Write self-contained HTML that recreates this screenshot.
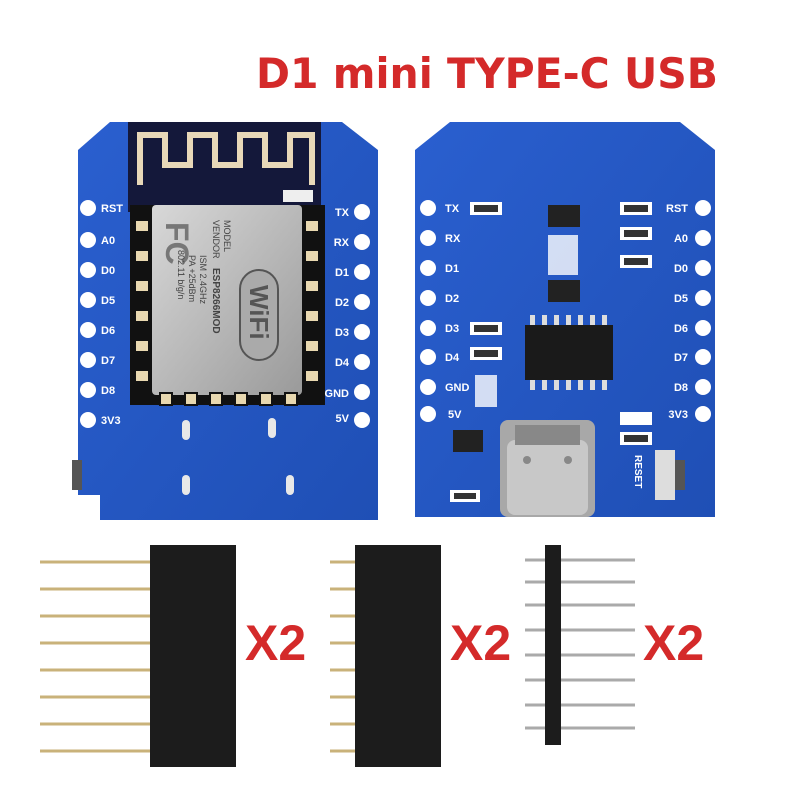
<!DOCTYPE html>
<html><head><meta charset="utf-8"><style>
html,body{margin:0;padding:0;background:#fff;}
svg{display:block}
</style></head><body>
<svg width="800" height="800" viewBox="0 0 800 800" xmlns="http://www.w3.org/2000/svg" font-family="Liberation Sans, sans-serif">
<defs>
<linearGradient id="pcb" x1="0" y1="0" x2="1" y2="1"><stop offset="0" stop-color="#2a5fcf"/><stop offset="1" stop-color="#1f4fb5"/></linearGradient>
<linearGradient id="shield" x1="0" y1="0" x2="1" y2="1"><stop offset="0" stop-color="#d8d8d8"/><stop offset="1" stop-color="#9a9a9a"/></linearGradient>
</defs>
<text x="487" y="88" text-anchor="middle" font-size="42" font-family="DejaVu Sans, sans-serif" font-weight="bold" fill="#d42a2a" textLength="462" lengthAdjust="spacingAndGlyphs">D1 mini TYPE-C USB</text>

<!-- LEFT BOARD -->
<path d="M110,122 L342,122 L378,150 L378,520 L100,520 L100,495 L78,495 L78,150 Z" fill="url(#pcb)"/>
<rect x="128" y="122" width="193" height="90" fill="#14183a"/>
<path d="M140,185 V135 H165 V165 H190 V135 H215 V165 H240 V135 H265 V165 H290 V135 H312 V185" fill="none" stroke="#e8d8b8" stroke-width="6"/>
<rect x="283" y="190" width="30" height="12" fill="#eee"/>
<rect x="130" y="205" width="195" height="200" fill="#111"/>
<rect x="152" y="205" width="150" height="190" rx="4" fill="url(#shield)"/>
<text x="166" y="222" font-size="32" font-weight="bold" fill="#777" transform="rotate(90 166 222)">FC</text>
<g font-size="9" fill="#444">
<text x="224" y="220" transform="rotate(90 224 220)">MODEL</text>
<text x="213" y="220" transform="rotate(90 213 220)">VENDOR</text>
<text x="213" y="268" font-weight="bold" font-size="10" transform="rotate(90 213 268)">ESP8266MOD</text>
<text x="200" y="255" transform="rotate(90 200 255)">ISM  2.4GHz</text>
<text x="189" y="255" transform="rotate(90 189 255)">PA  +25dBm</text>
<text x="178" y="250" transform="rotate(90 178 250)">802.11 b/g/n</text>
</g>
<rect x="240" y="270" width="38" height="90" rx="19" fill="#aaa" stroke="#555" stroke-width="2"/>
<text x="250" y="285" font-size="26" font-weight="bold" fill="#555" transform="rotate(90 250 285)">WiFi</text>
<g fill="#e8d8b0" stroke="#111" stroke-width="2">
<rect x="135" y="220" width="14" height="12"/><rect x="135" y="250" width="14" height="12"/><rect x="135" y="280" width="14" height="12"/><rect x="135" y="310" width="14" height="12"/><rect x="135" y="340" width="14" height="12"/><rect x="135" y="370" width="14" height="12"/>
<rect x="305" y="220" width="14" height="12"/><rect x="305" y="250" width="14" height="12"/><rect x="305" y="280" width="14" height="12"/><rect x="305" y="310" width="14" height="12"/><rect x="305" y="340" width="14" height="12"/><rect x="305" y="370" width="14" height="12"/>
<rect x="160" y="393" width="12" height="12"/><rect x="185" y="393" width="12" height="12"/><rect x="210" y="393" width="12" height="12"/><rect x="235" y="393" width="12" height="12"/><rect x="260" y="393" width="12" height="12"/><rect x="285" y="393" width="12" height="12"/>
</g>
<g fill="#fff"><circle cx="88" cy="208" r="8"/><circle cx="88" cy="240" r="8"/><circle cx="88" cy="270" r="8"/><circle cx="88" cy="300" r="8"/><circle cx="88" cy="330" r="8"/><circle cx="88" cy="360" r="8"/><circle cx="88" cy="390" r="8"/><circle cx="88" cy="420" r="8"/>
<circle cx="362" cy="212" r="8"/><circle cx="362" cy="242" r="8"/><circle cx="362" cy="272" r="8"/><circle cx="362" cy="302" r="8"/><circle cx="362" cy="332" r="8"/><circle cx="362" cy="362" r="8"/><circle cx="362" cy="392" r="8"/><circle cx="362" cy="420" r="8"/></g>
<g font-size="11" font-weight="bold" fill="#fff">
<text x="101" y="212">RST</text><text x="101" y="244">A0</text><text x="101" y="274">D0</text><text x="101" y="304">D5</text><text x="101" y="334">D6</text><text x="101" y="364">D7</text><text x="101" y="394">D8</text><text x="101" y="424">3V3</text>
<text x="349" y="216" text-anchor="end">TX</text><text x="349" y="246" text-anchor="end">RX</text><text x="349" y="276" text-anchor="end">D1</text><text x="349" y="306" text-anchor="end">D2</text><text x="349" y="336" text-anchor="end">D3</text><text x="349" y="366" text-anchor="end">D4</text><text x="349" y="397" text-anchor="end">GND</text><text x="349" y="422" text-anchor="end">5V</text>
</g>
<g fill="#e8e8e8"><rect x="182" y="420" width="8" height="20" rx="4"/><rect x="268" y="418" width="8" height="20" rx="4"/><rect x="182" y="475" width="8" height="20" rx="4"/><rect x="286" y="475" width="8" height="20" rx="4"/></g>
<rect x="72" y="460" width="10" height="30" fill="#555"/>

<!-- RIGHT BOARD -->
<path d="M450,122 L680,122 L715,150 L715,517 L415,517 L415,150 Z" fill="url(#pcb)"/>
<g fill="#fff"><circle cx="428" cy="208" r="8"/><circle cx="428" cy="238" r="8"/><circle cx="428" cy="268" r="8"/><circle cx="428" cy="298" r="8"/><circle cx="428" cy="328" r="8"/><circle cx="428" cy="357" r="8"/><circle cx="428" cy="387" r="8"/><circle cx="428" cy="414" r="8"/>
<circle cx="703" cy="208" r="8"/><circle cx="703" cy="238" r="8"/><circle cx="703" cy="268" r="8"/><circle cx="703" cy="298" r="8"/><circle cx="703" cy="328" r="8"/><circle cx="703" cy="357" r="8"/><circle cx="703" cy="387" r="8"/><circle cx="703" cy="414" r="8"/></g>
<g font-size="11" font-weight="bold" fill="#fff">
<text x="445" y="212">TX</text><text x="445" y="242">RX</text><text x="445" y="272">D1</text><text x="445" y="302">D2</text><text x="445" y="332">D3</text><text x="445" y="361">D4</text><text x="445" y="391">GND</text><text x="448" y="418">5V</text>
<text x="688" y="212" text-anchor="end">RST</text><text x="688" y="242" text-anchor="end">A0</text><text x="688" y="272" text-anchor="end">D0</text><text x="688" y="302" text-anchor="end">D5</text><text x="688" y="332" text-anchor="end">D6</text><text x="688" y="361" text-anchor="end">D7</text><text x="688" y="391" text-anchor="end">D8</text><text x="688" y="418" text-anchor="end">3V3</text>
<text x="635" y="455" font-size="10" transform="rotate(90 635 455)">RESET</text>
</g>
<g fill="#fff"><rect x="470" y="202" width="32" height="13"/><rect x="620" y="202" width="32" height="13"/><rect x="620" y="227" width="32" height="13"/><rect x="620" y="255" width="32" height="13"/><rect x="470" y="322" width="32" height="13"/><rect x="470" y="347" width="32" height="13"/><rect x="620" y="412" width="32" height="13"/><rect x="620" y="432" width="32" height="13"/><rect x="450" y="490" width="30" height="12"/></g>
<g fill="#333"><rect x="474" y="205" width="24" height="7"/><rect x="624" y="205" width="24" height="7"/><rect x="624" y="230" width="24" height="7"/><rect x="624" y="258" width="24" height="7"/><rect x="474" y="325" width="24" height="7"/><rect x="474" y="350" width="24" height="7"/><rect x="624" y="435" width="24" height="7"/><rect x="454" y="493" width="22" height="6"/></g>
<rect x="548" y="205" width="32" height="22" fill="#222"/><rect x="548" y="280" width="32" height="22" fill="#222"/>
<rect x="548" y="235" width="30" height="40" fill="#fff" opacity="0.8"/>
<rect x="525" y="325" width="88" height="55" fill="#1a1a1a"/>
<g fill="#ddd"><rect x="530" y="315" width="5" height="10"/><rect x="542" y="315" width="5" height="10"/><rect x="554" y="315" width="5" height="10"/><rect x="566" y="315" width="5" height="10"/><rect x="578" y="315" width="5" height="10"/><rect x="590" y="315" width="5" height="10"/><rect x="602" y="315" width="5" height="10"/>
<rect x="530" y="380" width="5" height="10"/><rect x="542" y="380" width="5" height="10"/><rect x="554" y="380" width="5" height="10"/><rect x="566" y="380" width="5" height="10"/><rect x="578" y="380" width="5" height="10"/><rect x="590" y="380" width="5" height="10"/><rect x="602" y="380" width="5" height="10"/></g>
<rect x="475" y="375" width="22" height="32" fill="#fff" opacity="0.8"/>
<rect x="453" y="430" width="30" height="22" fill="#222"/>
<rect x="500" y="420" width="95" height="97" rx="8" fill="#a8a8a8"/>
<rect x="507" y="440" width="81" height="75" rx="8" fill="#c8c8c8"/>
<rect x="515" y="425" width="65" height="20" fill="#888"/>
<circle cx="527" cy="460" r="4" fill="#888"/><circle cx="568" cy="460" r="4" fill="#888"/>
<rect x="655" y="450" width="20" height="50" fill="#ddd"/><rect x="675" y="460" width="10" height="30" fill="#555"/>

<!-- HEADERS -->
<g stroke="#c9b27a" stroke-width="3">
<line x1="40" y1="562" x2="150" y2="562"/><line x1="40" y1="589" x2="150" y2="589"/><line x1="40" y1="616" x2="150" y2="616"/><line x1="40" y1="643" x2="150" y2="643"/><line x1="40" y1="670" x2="150" y2="670"/><line x1="40" y1="697" x2="150" y2="697"/><line x1="40" y1="724" x2="150" y2="724"/><line x1="40" y1="751" x2="150" y2="751"/>
<line x1="330" y1="562" x2="355" y2="562"/><line x1="330" y1="589" x2="355" y2="589"/><line x1="330" y1="616" x2="355" y2="616"/><line x1="330" y1="643" x2="355" y2="643"/><line x1="330" y1="670" x2="355" y2="670"/><line x1="330" y1="697" x2="355" y2="697"/><line x1="330" y1="724" x2="355" y2="724"/><line x1="330" y1="751" x2="355" y2="751"/>
</g>
<g stroke="#aaa" stroke-width="3">
<line x1="525" y1="560" x2="635" y2="560"/><line x1="525" y1="582" x2="635" y2="582"/><line x1="525" y1="605" x2="635" y2="605"/><line x1="525" y1="630" x2="635" y2="630"/><line x1="525" y1="655" x2="635" y2="655"/><line x1="525" y1="680" x2="635" y2="680"/><line x1="525" y1="705" x2="635" y2="705"/><line x1="525" y1="728" x2="635" y2="728"/>
</g>
<rect x="150" y="545" width="86" height="222" fill="#1c1c1c"/>
<rect x="355" y="545" width="86" height="222" fill="#1c1c1c"/>
<rect x="545" y="545" width="16" height="200" fill="#1c1c1c"/>
<g font-size="50" font-weight="bold" fill="#d42a2a">
<text x="245" y="660">X2</text><text x="450" y="660">X2</text><text x="643" y="660">X2</text>
</g>
</svg>
</body></html>
